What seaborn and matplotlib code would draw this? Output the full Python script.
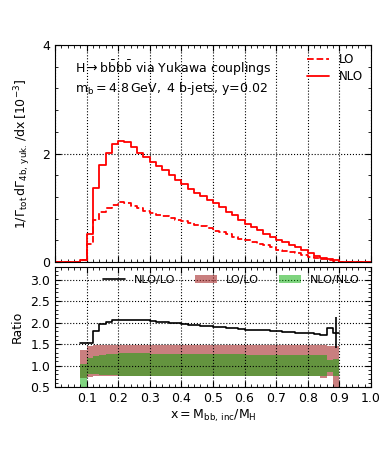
import numpy as np
import matplotlib
matplotlib.use("Agg")
import matplotlib.pyplot as plt
import seaborn as sns
from matplotlib.ticker import MultipleLocator

# x = M_bb,inc / M_H, bins of 0.02 from 0 to 1
edges = np.round(np.arange(0.0, 1.0001, 0.02), 2)

# 1/Gamma dGamma/dx [10^-3]
nlo = [0, 0, 0, 0, 0.04, 0.51, 1.36, 1.79, 2.01, 2.17,
       2.24, 2.21, 2.12, 2.01, 1.93, 1.84, 1.77, 1.69, 1.61, 1.52,
       1.44, 1.35, 1.28, 1.21, 1.14, 1.08, 1.01, 0.93, 0.87, 0.78,
       0.71, 0.65, 0.59, 0.52, 0.47, 0.41, 0.37, 0.32, 0.27, 0.22,
       0.16, 0.12, 0.08, 0.05, 0.03, 0, 0, 0, 0, 0]
lo = [0, 0, 0, 0, 0.03, 0.34, 0.77, 0.93, 1.00, 1.05,
      1.10, 1.09, 1.04, 0.99, 0.94, 0.91, 0.87, 0.85, 0.82, 0.78,
      0.75, 0.72, 0.69, 0.66, 0.62, 0.58, 0.55, 0.51, 0.47, 0.43,
      0.40, 0.37, 0.34, 0.31, 0.27, 0.23, 0.20, 0.18, 0.16, 0.13,
      0.10, 0.08, 0.06, 0.04, 0.02, 0, 0, 0, 0, 0]

# ratio panel, bins from 0.08 to 0.90
r_edges = np.round(np.arange(0.08, 0.9001, 0.02), 2)
nlo_over_lo = [1.53, 1.52, 1.80, 1.96, 2.02, 2.05, 2.07, 2.07, 2.07, 2.06,
               2.05, 2.03, 2.02, 2.01, 2.00, 1.99, 1.96, 1.95, 1.94, 1.92,
               1.91, 1.90, 1.89, 1.88, 1.87, 1.85, 1.84, 1.83, 1.82, 1.82,
               1.81, 1.80, 1.78, 1.79, 1.77, 1.76, 1.75, 1.74, 1.71, 1.88,
               1.77]
lolo_hi = [1.37, 1.46, 1.47, 1.47, 1.47, 1.47, 1.47, 1.47, 1.47, 1.47,
           1.47, 1.47, 1.47, 1.47, 1.47, 1.47, 1.47, 1.47, 1.47, 1.47,
           1.47, 1.47, 1.47, 1.47, 1.47, 1.47, 1.47, 1.47, 1.47, 1.47,
           1.47, 1.47, 1.47, 1.47, 1.47, 1.47, 1.47, 1.48, 1.49, 1.45,
           1.46]
lolo_lo = [0.72, 0.74, 0.75, 0.75, 0.75, 0.75, 0.75, 0.75, 0.75, 0.75,
           0.75, 0.75, 0.75, 0.75, 0.75, 0.75, 0.75, 0.75, 0.75, 0.75,
           0.75, 0.75, 0.75, 0.75, 0.75, 0.75, 0.75, 0.75, 0.75, 0.75,
           0.75, 0.75, 0.75, 0.75, 0.75, 0.75, 0.75, 0.75, 0.72, 0.75,
           0.40]
nlonlo_hi = [1.05, 1.17, 1.22, 1.25, 1.27, 1.28, 1.29, 1.29, 1.29, 1.29,
             1.29, 1.28, 1.28, 1.28, 1.28, 1.28, 1.27, 1.27, 1.27, 1.27,
             1.27, 1.26, 1.26, 1.26, 1.26, 1.26, 1.25, 1.25, 1.25, 1.25,
             1.25, 1.25, 1.24, 1.24, 1.24, 1.24, 1.24, 1.24, 1.25, 1.14,
             1.15]
nlonlo_lo = [0.40, 0.81, 0.80, 0.79, 0.78, 0.78, 0.77, 0.77, 0.77, 0.77,
             0.77, 0.77, 0.77, 0.77, 0.77, 0.77, 0.77, 0.77, 0.77, 0.77,
             0.77, 0.77, 0.77, 0.77, 0.77, 0.77, 0.77, 0.77, 0.77, 0.77,
             0.77, 0.77, 0.77, 0.77, 0.77, 0.77, 0.77, 0.77, 0.77, 0.85,
             0.76]
# stat. error bar on the last bin
err_x = 0.889
err_lo, err_hi = 1.41, 2.12


def stepped(vals):
    return np.append(vals, vals[-1])


sns.set_style("ticks")
plt.rcParams["font.family"] = ["DejaVu Sans"]
plt.rcParams["axes.edgecolor"] = "black"
plt.rcParams["text.color"] = "black"
plt.rcParams["axes.labelcolor"] = "black"
plt.rcParams["xtick.color"] = "black"
plt.rcParams["ytick.color"] = "black"
plt.rcParams["xtick.direction"] = "in"
plt.rcParams["ytick.direction"] = "in"
plt.rcParams["xtick.top"] = True
plt.rcParams["ytick.right"] = True

fig = plt.figure(figsize=(3.9, 4.55), dpi=100)
ax1 = fig.add_axes([0.141, 0.424, 0.810, 0.477])
ax2 = fig.add_axes([0.141, 0.149, 0.810, 0.265])

# top panel
sns.lineplot(x=edges, y=stepped(lo), drawstyle="steps-post", color="red",
             lw=1.3, ls="--", label="LO", ax=ax1)
sns.lineplot(x=edges, y=stepped(nlo), drawstyle="steps-post", color="red",
             lw=1.3, label="NLO", ax=ax1)
ax1.set_xlim(0, 1.0)
ax1.set_ylim(0, 4)
ax1.xaxis.set_major_locator(MultipleLocator(0.1))
ax1.xaxis.set_minor_locator(MultipleLocator(0.02))
ax1.yaxis.set_major_locator(MultipleLocator(2))
ax1.yaxis.set_minor_locator(MultipleLocator(0.4))
ax1.tick_params(axis="x", labelbottom=False)
ax1.tick_params(which="both", direction="in", top=True, right=True, labelsize=9)
ax1.tick_params(which="major", length=4)
ax1.tick_params(which="minor", length=2)
ax1.grid(True, which="major", ls=":", color="black", lw=0.8)
ax1.set_ylabel(r"$1/\Gamma_{\rm tot}\,\mathrm{d}\Gamma_{\rm 4b,\,yuk.}\,/\mathrm{dx}\,[10^{-3}]$",
               fontsize=9)
ax1.yaxis.set_label_coords(-0.07, 0.5)
ax1.legend(loc="upper right", frameon=False, fontsize=8.5, handlelength=1.9,
           borderaxespad=0.3, labelspacing=0.35)
ax1.text(0.063, 0.895, r"$\mathrm{H\rightarrow b\bar{b}b\bar{b}}$ via Yukawa couplings",
         transform=ax1.transAxes, fontsize=9, va="center")
ax1.text(0.063, 0.8, r"$\mathrm{m_b=4.8\,GeV,\ 4\ b}$-jets, y=0.02",
         transform=ax1.transAxes, fontsize=9, va="center")

# ratio panel
ax2.fill_between(r_edges, stepped(lolo_lo), stepped(lolo_hi), step="post",
                 color="#a52a2a", alpha=0.6, lw=0, label="LO/LO")
ax2.fill_between(r_edges, stepped(nlonlo_lo), stepped(nlonlo_hi), step="post",
                 color="#00aa00", alpha=0.5, lw=0, label="NLO/NLO")
sns.lineplot(x=r_edges, y=stepped(nlo_over_lo), drawstyle="steps-post",
             color="black", lw=1.2, label="NLO/LO", ax=ax2)
ax2.vlines(err_x, err_lo, err_hi, color="black", lw=1.2)
ax2.set_xlim(0, 1.0)
ax2.set_ylim(0.5, 3.3)
ax2.xaxis.set_minor_locator(MultipleLocator(0.02))
ax2.yaxis.set_major_locator(MultipleLocator(0.5))
ax2.yaxis.set_minor_locator(MultipleLocator(0.1))
ax2.set_xticks(np.round(np.arange(0.1, 1.01, 0.1), 1))
ax2.set_xticklabels(["0.1", "0.2", "0.3", "0.4", "0.5", "0.6", "0.7", "0.8", "0.9", "1.0"])
ax2.tick_params(which="both", direction="in", top=True, right=True, labelsize=9)
ax2.tick_params(which="major", length=4)
ax2.tick_params(which="minor", length=2)
ax2.grid(True, which="major", ls=":", color="black", lw=0.8)
ax2.set_axisbelow(False)
ax2.set_ylabel("Ratio", fontsize=9)
ax2.yaxis.set_label_coords(-0.098, 0.5)
ax2.set_xlabel(r"$\mathrm{x=M_{bb,\,inc}/M_H}$", fontsize=9, labelpad=2)

h, l = ax2.get_legend_handles_labels()
order = [l.index("NLO/LO"), l.index("LO/LO"), l.index("NLO/NLO")]
ax2.legend([h[i] for i in order], [l[i] for i in order], ncol=3,
           loc="center", bbox_to_anchor=(0.558, 0.893), frameon=False,
           fontsize=8, handlelength=2.0, columnspacing=1.8, handletextpad=0.8)

fig.savefig("out.png", dpi=100)
